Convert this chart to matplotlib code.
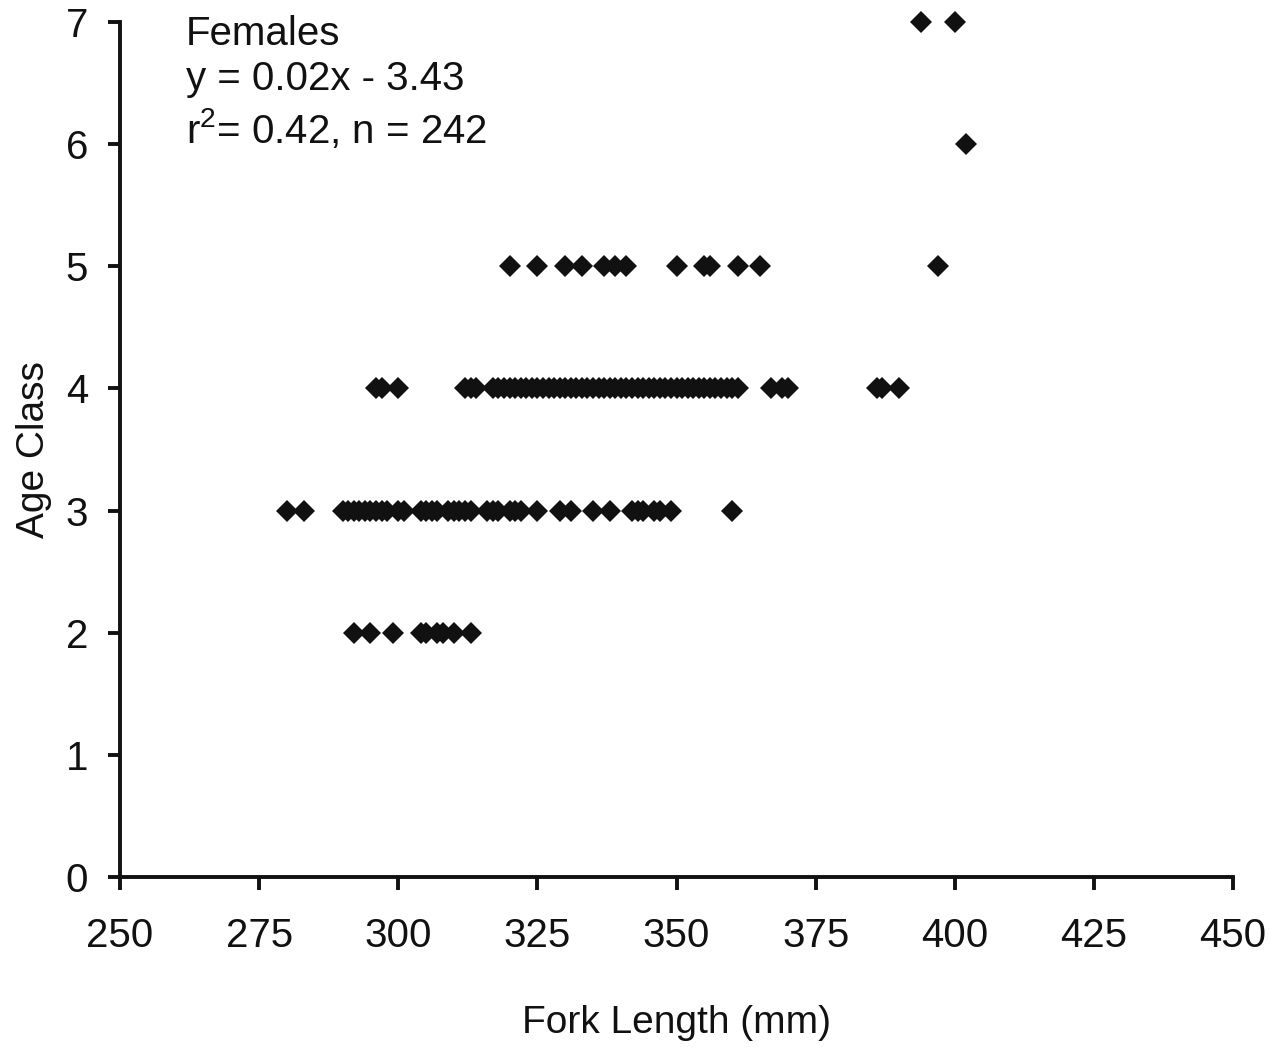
import matplotlib
matplotlib.use('Agg')
import matplotlib.pyplot as plt

plt.rcParams['font.family'] = ['Liberation Sans', 'DejaVu Sans']
plt.rcParams['mathtext.fontset'] = 'custom'
plt.rcParams['mathtext.rm'] = 'Liberation Sans'
plt.rcParams['mathtext.it'] = 'Liberation Sans'
plt.rcParams['mathtext.default'] = 'rm'

# Fork length (mm) of individual females, grouped by age class
age2_fl = [292, 295, 299, 304, 305, 307, 308, 310, 313]
age3_fl = [280, 283, 290, 291, 292, 293, 294, 295, 296, 297, 298, 300, 301,
           304, 305, 306, 307, 309, 310, 311, 312, 313, 316, 317, 318, 320,
           321, 322, 325, 329, 331, 335, 338, 342, 343, 344, 346, 347, 349, 360]
age4_fl = [296, 297, 300, 312, 313, 314] + list(range(317, 362)) + \
          [367, 369, 370, 386, 387, 390]
age5_fl = [320, 325, 330, 333, 337, 339, 341, 350, 355, 356, 361, 365, 397]
age6_fl = [402]
age7_fl = [394, 400]

groups = {2: age2_fl, 3: age3_fl, 4: age4_fl, 5: age5_fl, 6: age6_fl, 7: age7_fl}

fig = plt.figure(figsize=(12.7, 10.47), dpi=100)
ax = fig.add_axes([0.0945, 0.1624, 0.8764, 0.8166])

for age, fl in groups.items():
    ax.plot(fl, [age] * len(fl), linestyle='none', marker='D',
            markersize=11, color='#111111', markeredgewidth=0,
            clip_on=False, zorder=3)

ax.set_xlim(250, 450)
ax.set_ylim(0, 7)
ax.set_xticks(range(250, 451, 25))
ax.set_yticks(range(0, 8))

for side in ('top', 'right'):
    ax.spines[side].set_visible(False)
for side in ('left', 'bottom'):
    ax.spines[side].set_linewidth(2.8)
    ax.spines[side].set_color('#111111')

ax.tick_params(direction='out', length=9, width=2.8, labelsize=29,
               colors='#111111')
ax.tick_params(axis='x', pad=20)
ax.tick_params(axis='y', pad=14)

ax.set_xlabel('Fork Length (mm)', fontsize=28, labelpad=36, color='#111111')
ax.set_ylabel('Age Class', fontsize=28, labelpad=10, color='#111111')

ax.text(0.059, 1.008, 'Females\ny = 0.02x - 3.43\nr$^2$= 0.42, n = 242',
        transform=ax.transAxes, ha='left', va='top', fontsize=29,
        linespacing=1.24, color='#111111')

fig.savefig('out.png', dpi=100)
